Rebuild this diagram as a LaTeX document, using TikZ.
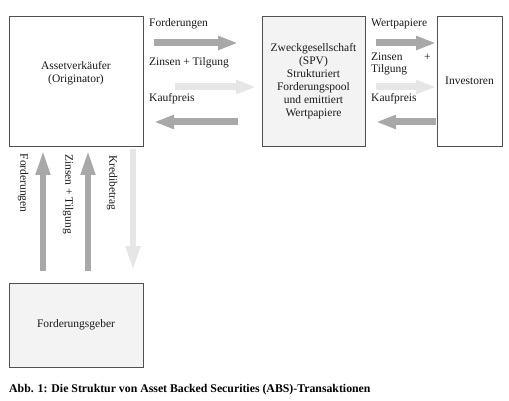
\documentclass[tikz,border=0pt]{standalone}
\usepackage{fontspec}
\setmainfont{Liberation Serif}
\usetikzlibrary{arrows.meta}
\definecolor{darkarr}{HTML}{A8A8A8}
\definecolor{lightarr}{HTML}{E6E6E6}
\definecolor{boxfill}{HTML}{F3F3F3}
\definecolor{boxline}{HTML}{505050}
\begin{document}
\begin{tikzpicture}[x=1pt,y=-1pt,
  every node/.style={font=\fontsize{11.5}{13}\selectfont, text=black!90},
  box/.style={draw=boxline, line width=0.8pt, inner sep=0pt, align=center},
  lbl/.style={anchor=west, inner sep=0pt},
  vlbl/.style={rotate=-90, inner sep=0pt},
  hfat/.style={line width=7pt, -{Triangle[length=20pt,width=13pt]}},
  vfat/.style={line width=6.5pt, -{Triangle[length=26pt,width=13pt]}},
  dk/.style={draw=darkarr},
  lt/.style={draw=lightarr}]
\useasboundingbox (0,0) rectangle (509,401);
\fill[white] (0,0) rectangle (509,401);

% boxes
\node[box, fill=white, minimum width=134, minimum height=130] (orig) at (76,81) {Assetverkäufer\\(Originator)\\[6pt]};
\node[box, fill=boxfill, minimum width=103, minimum height=130] (spv) at (313.5,81) {Zweckgesellschaft\\(SPV)\\Strukturiert\\Forderungspool\\und emittiert\\Wertpapiere};
\node[box, fill=white, minimum width=65, minimum height=130] (inv) at (469.5,81) {Investoren};
\node[box, fill=boxfill, minimum width=134, minimum height=84] (geber) at (76,325) {Forderungsgeber};

% coordinates for arrow ends
\coordinate (a1s) at (154,43);  \coordinate (a1e) at (238,43);
\coordinate (a2s) at (175,87);  \coordinate (a2e) at (256,87);
\coordinate (a3s) at (238,122); \coordinate (a3e) at (154,122);
\coordinate (b1s) at (376,43);  \coordinate (b1e) at (436,43);
\coordinate (b2s) at (376,87);  \coordinate (b2e) at (436,87);
\coordinate (b3s) at (436,122); \coordinate (b3e) at (376,122);
\coordinate (v1s) at (43,271);  \coordinate (v1e) at (43,149);
\coordinate (v2s) at (88,271);  \coordinate (v2e) at (88,149);
\coordinate (v3s) at (133,149); \coordinate (v3e) at (133,272);

% horizontal arrows
\draw[hfat,dk] (a1s) -- (a1e);
\draw[hfat,lt] (a2s) -- (a2e);
\draw[hfat,dk] (a3s) -- (a3e);
\draw[hfat,dk] (b1s) -- (b1e);
\draw[hfat,lt] (b2s) -- (b2e);
\draw[hfat,dk] (b3s) -- (b3e);
% vertical arrows
\draw[vfat,dk] (v1s) -- (v1e);
\draw[vfat,dk] (v2s) -- (v2e);
\draw[vfat,lt] (v3s) -- (v3e);

% labels
\node[lbl] (l1) at (149,24) {Forderungen};
\node[lbl] (l2) at (149,63) {Zinsen + Tilgung};
\node[lbl] (l3) at (149,99) {Kaufpreis};
\node[lbl] (m1) at (371,24) {Wertpapiere};
\node[lbl] (m2) at (371,57) {Zinsen};
\node[lbl] (m2p) at (424,57) {+};
\node[lbl] (m2b) at (371,70) {Tilgung};
\node[lbl] (m3) at (371,99) {Kaufpreis};
\node[vlbl] (k1) at (23,183) {Forderungen};
\node[vlbl] (k2) at (68,194) {Zinsen + Tilgung};
\node[vlbl] (k3) at (112,183) {Kredibetrag};

% caption
\node[anchor=base west, inner sep=0pt, font=\bfseries\fontsize{11.8}{14}\selectfont, text=black] (cap) at (9,392) {Abb. 1: Die Struktur von Asset Backed Securities (ABS)-Transaktionen};
\end{tikzpicture}
\end{document}
